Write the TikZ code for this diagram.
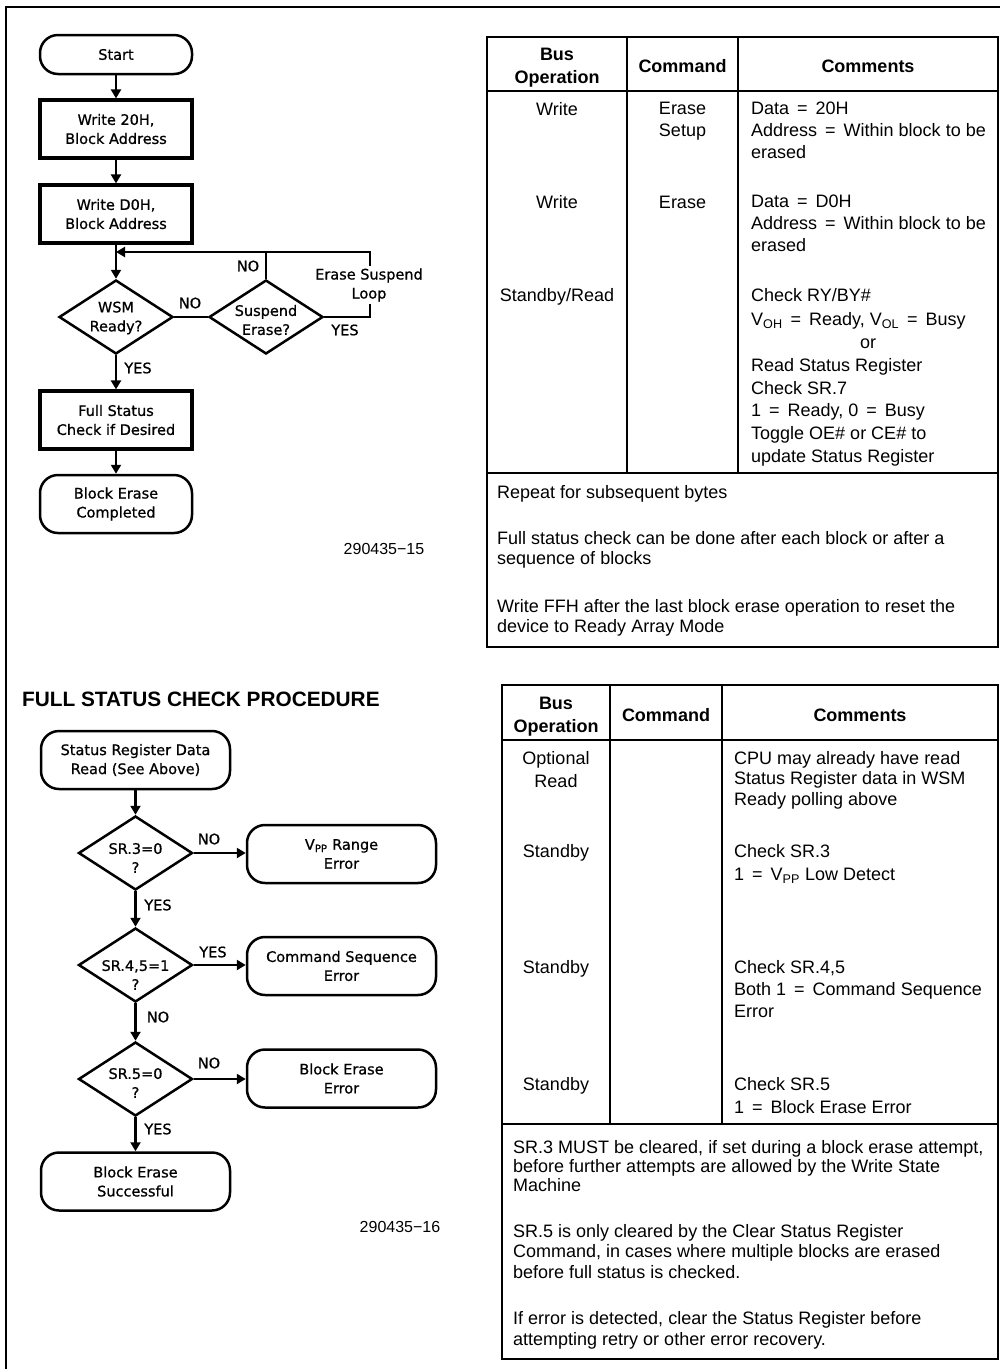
\documentclass[tikz,border=0pt]{standalone}
\usepackage{fontspec}
\setmainfont{Liberation Sans}
\newfontfamily\plotfont[FakeBold=0.8]{DejaVu Sans}
\usetikzlibrary{shapes.geometric, arrows.meta}
\newcommand{\eqs}{\hspace{3pt}=\hspace{3pt}}

\tikzset{
	flow/.style = {font=\plotfont\fontsize{14.5}{19}\selectfont, align=center, inner sep=0pt},
	proc/.style = {flow, draw, line width=3.2pt, minimum width=152pt, minimum height=58pt},
	term/.style = {flow, draw, line width=2.5pt, rounded corners=18pt, minimum height=58pt},
	dec/.style = {draw, line width=2.5pt, diamond, minimum width=114pt, minimum height=74pt, inner sep=0pt},
	lbl/.style = {flow},
	flowline/.style = {line width=2.5pt},
	arr/.style = {flowline, -{Triangle[length=9pt, width=10pt]}},
	grid/.style = {line width=1.2pt},
	head/.style = {font=\bfseries\fontsize{18}{23}\selectfont, align=center, inner sep=0pt},
	cell/.style = {font=\fontsize{18}{22}\selectfont, align=left, anchor=north west, inner sep=0pt, execute at begin node=\strut},
	ccell/.style = {cell, align=center, anchor=north},
	fignum/.style = {font=\fontsize{16}{19}\selectfont, inner sep=0pt}
}

\begin{document}
\begin{tikzpicture}[x=1pt, y=-1pt]
	\useasboundingbox (0,0) rectangle (1000,1369);
	\draw[line width=1.5pt] (1000,7) -- (6,7) -- (6,1369);

	\node[term, minimum width=152pt, minimum height=39pt] (start) at (116,54.5) {Start};
	\node[proc] (w20) at (116,129) {Write 20H,\\Block Address};
	\node[proc] (wd0) at (116,214) {Write D0H,\\Block Address};
	\node[dec, label={[flow, yshift=-1pt]center:{WSM\\Ready?}}] (wsm) at (116,317) {};
	\node[dec, label={[flow, yshift=-3pt]center:{Suspend\\Erase?}}] (sus) at (266,317) {};
	\node[proc] (full) at (116,420) {Full Status\\Check if Desired};
	\node[term, minimum width=152pt] (done) at (116,504) {Block Erase\\Completed};
	\coordinate (lp) at (370,252);
	\coordinate (jn) at (116,252);
	\draw[arr] (start) -- (w20);
	\draw[arr] (w20) -- (wd0);
	\draw[arr] (wd0) -- (wsm);
	\draw[flowline] (wsm) -- (sus);
	\draw[flowline] (sus) -- (sus.north |- lp);
	\draw[arr] (sus) -| (lp) -- (jn);
	\draw[arr] (wsm) -- (full);
	\draw[arr] (full) -- (done);
	\node[lbl] (no-wsm) at (190,303) {NO};
	\node[lbl] (no-sus) at (248,266) {NO};
	\node[lbl] (yes-sus) at (345,330) {YES};
	\node[lbl] (yes-wsm) at (138,368) {YES};
	\node[flow, fill=white, inner sep=2pt] (loop) at (369,285) {Erase Suspend\\Loop};
	\node[fignum] (fig-a) at (384,549) {290435−15};

	\draw[grid] (487,37) rectangle (998,647);
	\draw[grid] (487,91) -- (998,91);
	\draw[grid] (487,473) -- (998,473);
	\draw[grid] (627,37) -- (627,473);
	\draw[grid] (738,37) -- (738,473);
	\node[head] (ta-bus) at (557,68) {Bus\\Operation};
	\node[head] (ta-cmd) at (682.5,66) {Command};
	\node[head] (ta-com) at (868,66) {Comments};
	\node[ccell] (ta-op1) at (557,100.1) {Write};
	\node[ccell] (ta-cm1) at (682.5,102.2) {Erase\\Setup};
	\node[cell] (ta-co1) at (751,102.2) {Data \eqs{} 20H\\Address \eqs{} Within block to be\\erased};
	\node[ccell] (ta-op2) at (557,193.1) {Write};
	\node[ccell] (ta-cm2) at (682.5,193.1) {Erase};
	\node[cell] (ta-co2) at (751,195.2) {Data \eqs{} D0H\\Address \eqs{} Within block to be\\erased};
	\node[ccell] (ta-op3) at (557,286.1) {Standby/Read};
	\node[cell, font=\fontsize{18}{24}\selectfont] (ta-co3) at (751,288.2) {Check RY/BY\#\\V\textsubscript{OH} \eqs{} Ready, V\textsubscript{OL} \eqs{} Busy};
	\node[ccell] (ta-or) at (868,333.1) {or};
	\node[cell, font=\fontsize{18}{22.7}\selectfont] (ta-co4) at (751,358.2) {Read Status Register\\Check SR.7\\1 \eqs{} Ready, 0 \eqs{} Busy\\Toggle OE\# or CE\# to\\update Status Register};
	\node[cell] (ta-n1) at (497,483.1) {Repeat for subsequent bytes};
	\node[cell, font=\fontsize{18}{20}\selectfont] (ta-n2) at (497,531.2) {Full status check can be done after each block or after a\\sequence of blocks};
	\node[cell, font=\fontsize{18}{20}\selectfont] (ta-n3) at (497,599.2) {Write FFH after the last block erase operation to reset the\\device to Ready Array Mode};

	\node[font=\bfseries\fontsize{20.8}{24}\selectfont, anchor=west, inner sep=0pt] (title) at (22,699) {FULL STATUS CHECK PROCEDURE};
	\node[term, minimum width=189pt] (rd) at (135.5,760) {Status Register Data\\Read (See Above)};
	\node[dec, label={[flow, yshift=-5pt]center:{SR.3=0\\?}}] (sr3) at (135.5,853) {};
	\node[term, minimum width=189pt] (vpp) at (341.5,854) {V\textsubscript{PP} Range\\Error};
	\node[dec, label={[flow, yshift=-10pt]center:{SR.4,5=1\\?}}] (sr45) at (135.5,965) {};
	\node[term, minimum width=189pt] (cse) at (341.5,966) {Command Sequence\\Error};
	\node[dec, label={[flow, yshift=-4pt]center:{SR.5=0\\?}}] (sr5) at (135.5,1079) {};
	\node[term, minimum width=189pt] (bee) at (341.5,1078.5) {Block Erase\\Error};
	\node[term, minimum width=189pt] (ok) at (135.5,1181.5) {Block Erase\\Successful};
	\draw[arr] (rd) -- (sr3);
	\draw[arr] (sr3) -- (sr3.east -| vpp.west);
	\draw[arr] (sr3) -- (sr45);
	\draw[arr] (sr45) -- (sr45.east -| cse.west);
	\draw[arr] (sr45) -- (sr5);
	\draw[arr] (sr5) -- (sr5.east -| bee.west);
	\draw[arr] (sr5) -- (ok);
	\node[lbl] (no-sr3) at (209,839) {NO};
	\node[lbl] (yes-sr3) at (158,905) {YES};
	\node[lbl] (yes-sr45) at (213,952) {YES};
	\node[lbl] (no-sr45) at (158,1017) {NO};
	\node[lbl] (no-sr5) at (209,1063) {NO};
	\node[lbl] (yes-sr5) at (158,1129) {YES};
	\node[fignum] (fig-b) at (400,1227) {290435−16};

	\draw[grid] (502,685) rectangle (998,1359);
	\draw[grid] (502,740) -- (998,740);
	\draw[grid] (502,1124) -- (998,1124);
	\draw[grid] (610,685) -- (610,1124);
	\draw[grid] (722,685) -- (722,1124);
	\node[head] (tb-bus) at (556,717) {Bus\\Operation};
	\node[head] (tb-cmd) at (666,715) {Command};
	\node[head] (tb-com) at (860,715) {Comments};
	\node[ccell, font=\fontsize{18}{23}\selectfont] (tb-op1) at (556,751.2) {Optional\\Read};
	\node[cell, font=\fontsize{18}{20.5}\selectfont] (tb-co1) at (734,751.2) {CPU may already have read\\Status Register data in WSM\\Ready polling above};
	\node[ccell] (tb-op2) at (556,842.1) {Standby};
	\node[cell, font=\fontsize{18}{23}\selectfont] (tb-co2) at (734,844.2) {Check SR.3\\1 \eqs{} V\textsubscript{PP} Low Detect};
	\node[ccell] (tb-op3) at (556,958.1) {Standby};
	\node[cell] (tb-co3) at (734,960.2) {Check SR.4,5\\Both 1 \eqs{} Command Sequence\\Error};
	\node[ccell] (tb-op4) at (556,1075.1) {Standby};
	\node[cell, font=\fontsize{18}{23}\selectfont] (tb-co4) at (734,1077.2) {Check SR.5\\1 \eqs{} Block Erase Error};
	\node[cell, font=\fontsize{18}{19}\selectfont] (tb-n1) at (513,1140.2) {SR.3 MUST be cleared, if set during a block erase attempt,\\before further attempts are allowed by the Write State\\Machine};
	\node[cell, font=\fontsize{18}{20.5}\selectfont] (tb-n2) at (513,1224.2) {SR.5 is only cleared by the Clear Status Register\\Command, in cases where multiple blocks are erased\\before full status is checked.};
	\node[cell, font=\fontsize{18}{21}\selectfont] (tb-n3) at (513,1311.2) {If error is detected, clear the Status Register before\\attempting retry or other error recovery.};
\end{tikzpicture}
\end{document}
